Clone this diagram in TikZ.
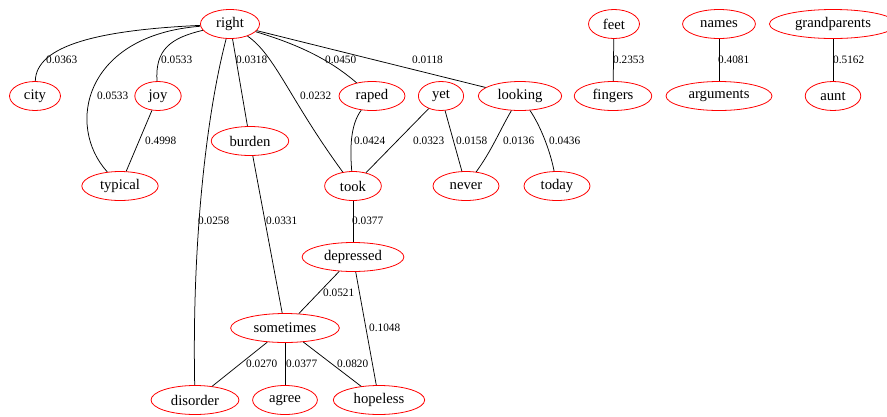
\documentclass[tikz,border=0pt]{standalone}
\usepackage{fontspec}
\setmainfont{Liberation Serif}
\usetikzlibrary{shapes.geometric}
\tikzset{
  wnode/.style={ellipse, draw=red, line width=0.8pt, inner xsep=7pt, inner ysep=1.5pt,
    minimum height=29pt, font=\fontsize{14.7}{16}\selectfont},
  lbl/.style={anchor=west, inner sep=0pt, font=\fontsize{11.3}{13}\selectfont},
  edge/.style={draw=black, line width=0.75pt}
}
\begin{document}
\begin{tikzpicture}[x=1pt,y=-1pt]
\useasboundingbox (0,0) rectangle (887,416);
% nodes
\node[wnode] (right) at (230,24) {right};
\node[wnode] (city) at (35,96) {city};
\node[wnode] (joy) at (158,96) {joy};
\node[wnode] (typical) at (120,186) {typical};
\node[wnode] (burden) at (250,141) {burden};
\node[wnode] (raped) at (372,96) {raped};
\node[wnode] (yet) at (441,96) {yet};
\node[wnode] (looking) at (520,96) {looking};
\node[wnode] (took) at (353,186) {took};
\node[wnode] (never) at (466,186) {never};
\node[wnode] (today) at (557,186) {today};
\node[wnode] (feet) at (614,24) {feet};
\node[wnode] (fingers) at (613,96) {fingers};
\node[wnode] (names) at (719,24) {names};
\node[wnode] (arguments) at (719,96) {arguments};
\node[wnode] (grandparents) at (833,24) {grandparents};
\node[wnode] (aunt) at (833,96) {aunt};
\node[wnode] (depressed) at (353,257) {depressed};
\node[wnode] (sometimes) at (285,328) {sometimes};
\node[wnode] (disorder) at (195,400) {disorder};
\node[wnode] (agree) at (285,400) {agree};
\node[wnode] (hopeless) at (379,400) {hopeless};
% edges
\draw[edge] (right) .. controls (100,30) and (36,45) .. (city);
\draw[edge] (right) .. controls (85,35) and (65,125) .. (typical);
\draw[edge] (right) .. controls (170,38) and (155,50) .. (joy);
\draw[edge] (right) .. controls (205,120) and (192,250) .. (disorder);
\draw[edge] (right) -- (burden);
\draw[edge] (right) .. controls (275,55) and (290,100) .. (took);
\draw[edge] (right) .. controls (300,45) and (330,60) .. (raped);
\draw[edge] (right) -- (looking);
\draw[edge] (joy) -- (typical);
\draw[edge] (raped) .. controls (350,125) and (350,150) .. (took);
\draw[edge] (yet) -- (took);
\draw[edge] (yet) -- (never);
\draw[edge] (looking) .. controls (500,130) and (492,150) .. (never);
\draw[edge] (looking) .. controls (540,125) and (550,150) .. (today);
\draw[edge] (took) -- (depressed);
\draw[edge] (depressed) -- (sometimes);
\draw[edge] (depressed) -- (hopeless);
\draw[edge] (burden) -- (sometimes);
\draw[edge] (sometimes) -- (disorder);
\draw[edge] (sometimes) -- (agree);
\draw[edge] (sometimes) -- (hopeless);
\draw[edge] (feet) -- (fingers);
\draw[edge] (names) -- (arguments);
\draw[edge] (grandparents) -- (aunt);
% labels
\node[lbl] (l1) at (46,60) {0.0363};
\node[lbl] (l2) at (97,96) {0.0533};
\node[lbl] (l3) at (161,60) {0.0533};
\node[lbl] (l4) at (145,141) {0.4998};
\node[lbl] (l5) at (236,60) {0.0318};
\node[lbl] (l6) at (198,221) {0.0258};
\node[lbl] (l7) at (266,221) {0.0331};
\node[lbl] (l8) at (300,96) {0.0232};
\node[lbl] (l9) at (325,60) {0.0450};
\node[lbl] (l10) at (412,60) {0.0118};
\node[lbl] (l11) at (354,141) {0.0424};
\node[lbl] (l12) at (413,141) {0.0323};
\node[lbl] (l13) at (456,141) {0.0158};
\node[lbl] (l14) at (503,141) {0.0136};
\node[lbl] (l15) at (549,141) {0.0436};
\node[lbl] (l16) at (613,60) {0.2353};
\node[lbl] (l17) at (718,60) {0.4081};
\node[lbl] (l18) at (833,60) {0.5162};
\node[lbl] (l19) at (352,221) {0.0377};
\node[lbl] (l20) at (323,293) {0.0521};
\node[lbl] (l21) at (369,328) {0.1048};
\node[lbl] (l22) at (246,364) {0.0270};
\node[lbl] (l23) at (286,364) {0.0377};
\node[lbl] (l24) at (337,364) {0.0820};
\end{tikzpicture}
\end{document}
